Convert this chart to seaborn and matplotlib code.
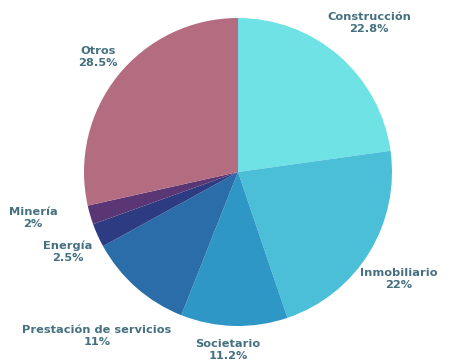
import matplotlib
matplotlib.use("Agg")
import matplotlib.pyplot as plt
import seaborn as sns

sns.set_theme(style="white")
plt.rcParams['font.family'] = ['DejaVu Sans']

categories = ["Construcción", "Inmobiliario", "Societario", "Prestación de servicios",
              "Energía", "Minería", "Otros"]
values = [22.8, 22, 11.2, 11, 2.5, 2, 28.5]
colors = ["#6FE2E5", "#4BBFD8", "#2F97C6", "#2A6DA8", "#2C3B82", "#5A3674", "#B46D80"]

# label anchor positions in pixels (x, y from top) for the two-line labels
label_px = [(369, 23), (399, 279), (228, 350), (97, 336), (68, 252), (33, 218), (98, 57)]

W, H = 449, 360
fig = plt.figure(figsize=(W / 100, H / 100), dpi=100)
cx, cy, r = 238, 172, 154
ax = fig.add_axes([(cx - r) / W, (H - cy - r) / H, 2 * r / W, 2 * r / H])
ax.pie(values, colors=colors, startangle=90, counterclock=False, radius=1,
       wedgeprops=dict(linewidth=0))
ax.set_xlim(-1, 1)
ax.set_ylim(-1, 1)
ax.set_aspect("equal")
ax.axis("off")

txt_color = "#44707F"
for cat, v, (x, y) in zip(categories, values, label_px):
    fig.text(x / W, 1 - y / H, f"{cat}\n{v:g}%", ha="center", va="center",
             fontsize=8.2, fontweight="bold", color=txt_color, linespacing=1.3)

fig.savefig("out.png", dpi=100, facecolor="white")
